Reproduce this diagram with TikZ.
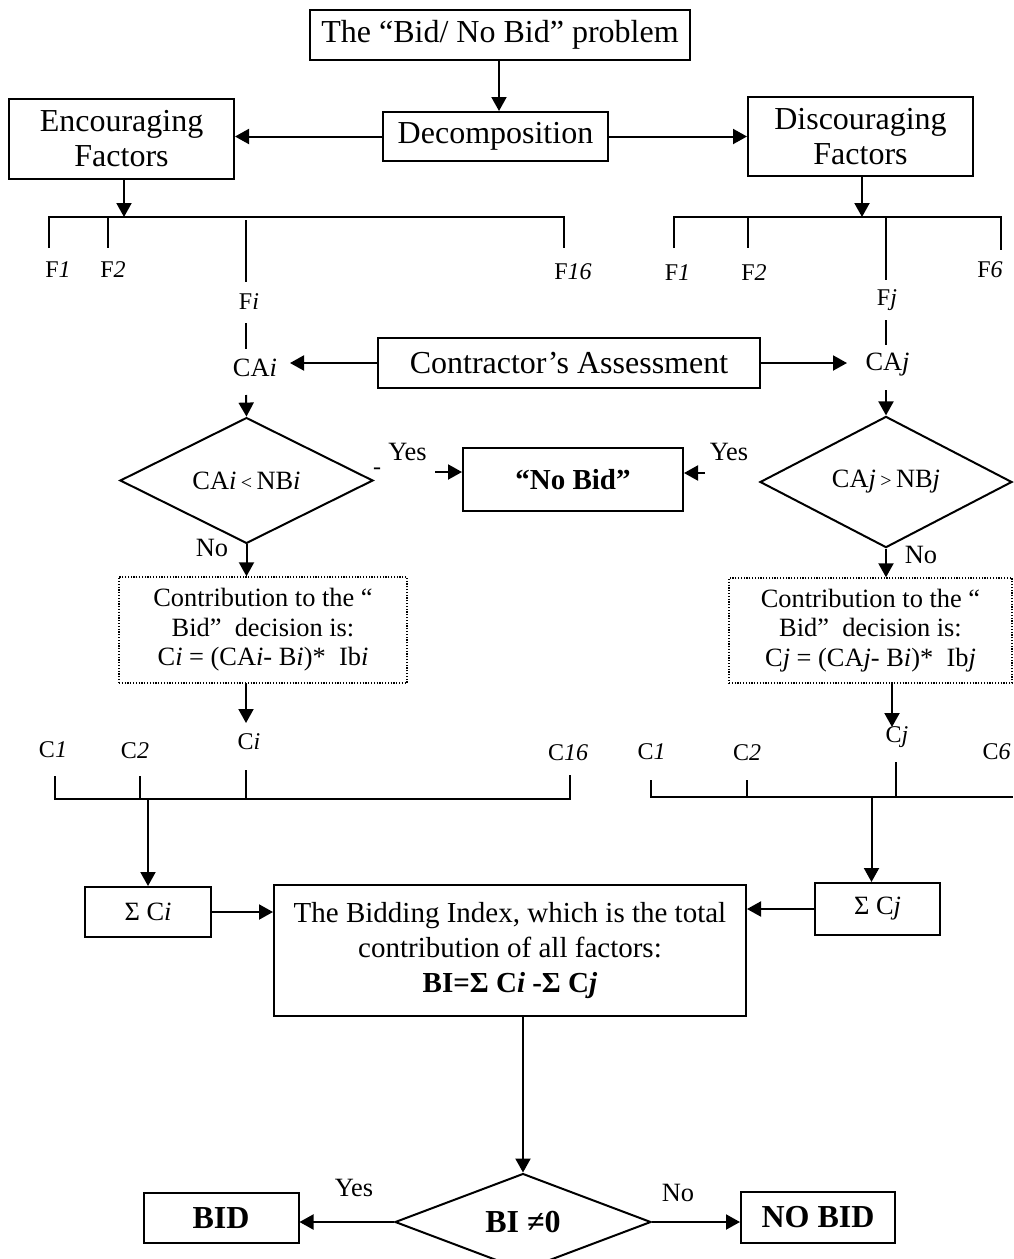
\documentclass[tikz,border=0pt]{standalone}
\usepackage{fontspec}
\setmainfont{Liberation Serif}
\usetikzlibrary{arrows.meta,shapes.geometric}
\newcommand\fsA{\fontsize{16}{17.5}\selectfont}
\newcommand\fsB{\fontsize{13.2}{14.8}\selectfont}
\newcommand\fsC{\fontsize{12}{14}\selectfont}
\newcommand\fsD{\fontsize{14.5}{17.5}\selectfont}
\newcommand\fsS{\fontsize{10}{11}\selectfont}
\begin{document}
\begin{tikzpicture}[x=0.5pt,y=-0.5pt,
 box/.style={draw,line width=1pt,inner sep=0pt,align=center},
 dbox/.style={draw,line width=0.7pt,dash pattern=on 0.6pt off 0.8pt,inner sep=0pt,align=center},
 dia/.style={draw,diamond,line width=1pt,inner sep=0pt},
 lbl/.style={inner sep=0pt},
 arr/.style={line width=1pt,-{Triangle[length=7pt,width=7.5pt]}},
 ln/.style={line width=1pt}]
\useasboundingbox (0,0) rectangle (1013,1259);
% top boxes
\node[box,font=\fsA,minimum width=190pt,minimum height=25pt] (title) at (500,35) {The “Bid/ No Bid” problem};
\node[box,font=\fsA,minimum width=112.5pt,minimum height=24.5pt] (dec) at (495.5,136.5) {Decomposition};
\node[box,font=\fsA,minimum width=112.5pt,minimum height=40pt] (enc) at (121.5,139) {Encouraging\\Factors};
\node[box,font=\fsA,minimum width=112.5pt,minimum height=39.5pt] (dis) at (860.5,136.5) {Discouraging\\Factors};
\draw[arr] (title.south -| 499,0) -- (dec.north -| 499,0);
\draw[arr] (dec.west) -- (dec.west -| enc.east);
\draw[arr] (dec.east) -- (dec.east -| dis.west);
% left factor bar
\coordinate (lb) at (124,217);
\draw[arr] (enc.south -| lb) -- (lb);
\draw[ln] (49,248) -- (49,217) -- (564,217) -- (564,248);
\draw[ln] (108,217) -- (108,248);
\draw[ln] (246,220) -- (246,282);
\node[lbl,font=\fsC] (fl1) at (58,270) {F\textit{1}};
\node[lbl,font=\fsC] (fl2) at (113,270) {F\textit{2}};
\node[lbl,font=\fsC] (fi) at (249,302) {F\textit{i}};
\node[lbl,font=\fsC] (fl16) at (573,272) {F\textit{16}};
% right factor bar
\coordinate (rb) at (862,217);
\draw[arr] (dis.south -| rb) -- (rb);
\draw[ln] (674,248) -- (674,217) -- (1001,217) -- (1001,250);
\draw[ln] (748,217) -- (748,248);
\draw[ln] (886,217) -- (886,280);
\node[lbl,font=\fsC] (fr1) at (677.5,273) {F\textit{1}};
\node[lbl,font=\fsC] (fr2) at (754,273) {F\textit{2}};
\node[lbl,font=\fsC] (fj) at (887,300) {F\textit{j}};
\node[lbl,font=\fsC] (fr6) at (990,270) {F\textit{6}};
% assessment
\node[lbl,font=\fsB] (cai) at (255,368) {CA\textit{i}};
\node[lbl,font=\fsB] (caj) at (887.5,365) {CA\textit{j}};
\node[box,font=\fsA,minimum width=191pt,minimum height=25pt] (ca) at (569,363) {Contractor’s Assessment};
\draw[ln] (246,323) -- (246,349);
\draw[ln] (886,320) -- (886,345);
\draw[arr] (ca.west) -- (290,363);
\draw[arr] (ca.east) -- (847,363);
% diamonds
\node[dia,font=\fsB,minimum width=126.5pt,minimum height=48.5pt] (dl) at (246.5,480.5) {CA\textit{i}\,{\fsS<}\,NB\textit{i}};
\node[dia,font=\fsB,minimum width=126pt,minimum height=48pt] (dr) at (886,482) {CA\textit{j}\,{\fsS>}\,NB\textit{j}};
\draw[arr] (246,395) -- (dl.north);
\draw[arr] (886,390) -- (dr.north);
\node[box,font=\bfseries\fsD,minimum width=110pt,minimum height=31.5pt] (nb) at (573,479.5) {“No Bid”};
\node[lbl,font=\fsC] (dash) at (377,471) {-};
\node[lbl,font=\fsB] (yl) at (407.5,452) {Yes};
\node[lbl,font=\fsB] (yr) at (729,452) {Yes};
\coordinate (yla) at (435,472);
\coordinate (yra) at (705,473);
\draw[arr] (yla) -- (yla -| nb.west);
\draw[arr] (yra) -- (yra -| nb.east);
% contribution boxes
\node[dbox,font=\fsB,minimum width=144pt,minimum height=53pt] (cl) at (263,630) {Contribution to the “\\Bid”~ decision is:\\C\textit{i} = (CA\textit{i}- B\textit{i})*~ Ib\textit{i}};
\node[dbox,font=\fsB,minimum width=141.5pt,minimum height=52.5pt] (cr) at (870.5,630.5) {Contribution to the “\\Bid”~ decision is:\\C\textit{j} = (CA\textit{j}- B\textit{i})*~ Ib\textit{j}};
\draw[arr] (dl.south) -- (dl.south |- cl.north);
\draw[arr] (dr.south) -- (dr.south |- cr.north);
\node[lbl,font=\fsB] (nol) at (212,548) {No};
\node[lbl,font=\fsB] (nor) at (921,555) {No};
\draw[arr] (246,683) -- (246,723);
\draw[arr] (892,683) -- (892,727);
% left C row
\node[lbl,font=\fsC] (cl1) at (53,750) {C\textit{1}};
\node[lbl,font=\fsC] (cl2) at (135,751) {C\textit{2}};
\node[lbl,font=\fsC] (ci) at (249,742) {C\textit{i}};
\node[lbl,font=\fsC] (cl16) at (568,753) {C\textit{16}};
\draw[ln] (55,776) -- (55,799) -- (570,799) -- (570,775);
\draw[ln] (139.5,776) -- (139.5,799);
\draw[ln] (245.5,770) -- (245.5,799);
% right C row
\node[lbl,font=\fsC] (cr1) at (651.5,752) {C\textit{1}};
\node[lbl,font=\fsC] (cr2) at (747,753) {C\textit{2}};
\node[lbl,font=\fsC] (cj) at (897,737) {C\textit{j}};
\node[lbl,font=\fsC,anchor=east] (cr6) at (1011,752) {C\textit{6}};
\draw[ln] (650.5,780) -- (650.5,797) -- (1013,797);
\draw[ln] (747.4,780) -- (747.4,797);
\draw[ln] (896,762) -- (896,797);
% sums
\node[box,font=\fsB,minimum width=63pt,minimum height=25pt] (sci) at (148,912) {Σ C\textit{i}};
\node[box,font=\fsB,minimum width=62.5pt,minimum height=26pt] (scj) at (877.5,909) {Σ C\textit{j}};
\coordinate (lbar) at (148,799);
\coordinate (rbar) at (871.5,797);
\draw[arr] (lbar) -- (sci.north);
\draw[arr] (rbar) -- (rbar |- scj.north);
\node[box,font=\fsD,minimum width=236pt,minimum height=65.5pt] (bi) at (510,950.5) {The Bidding Index, which is the total\\contribution of all factors:\\\textbf{BI=Σ C\textit{i} -Σ C\textit{j}}};
\draw[arr] (sci.east) -- (sci.east -| bi.west);
\draw[arr] (scj.west) -- (scj.west -| bi.east);
% bottom decision
\node[dia,font=\bfseries\fsA,minimum width=128pt,minimum height=42pt] (bd) at (523,1222) {BI ≠0};
\draw[arr] (bi.south -| bd.north) -- (bd.north);
\node[box,font=\bfseries\fsA,minimum width=77.5pt,minimum height=25pt] (bid) at (221,1218) {BID};
\node[box,font=\bfseries\fsA,minimum width=77pt,minimum height=25.5pt] (nobid) at (818,1217.5) {NO BID};
\draw[arr] (bd.west) -- (bd.west -| bid.east);
\draw[arr] (bd.east) -- (bd.east -| nobid.west);
\node[lbl,font=\fsB] (yb) at (354,1188) {Yes};
\node[lbl,font=\fsB] (nob) at (678,1193) {No};
\end{tikzpicture}
\end{document}
